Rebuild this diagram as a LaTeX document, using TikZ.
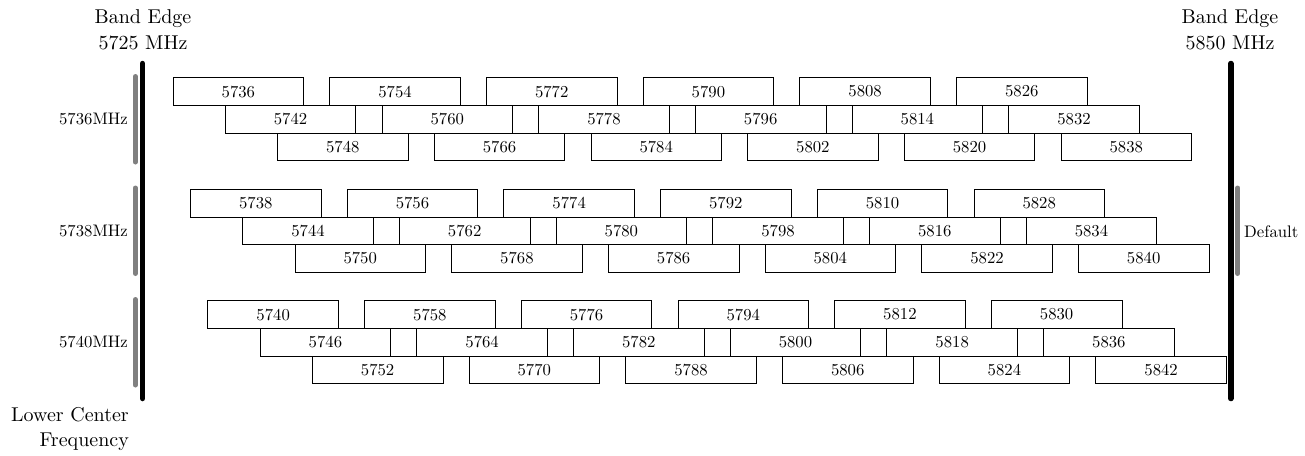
\documentclass[tikz,border=0pt]{standalone}
\usepackage{fontspec}
\setmainfont{lmroman10-regular.otf}
\begin{document}
\begin{tikzpicture}[x=1pt,y=-1pt,
  chan/.style={draw, line width=0.8pt, minimum width=130.6pt, minimum height=27.7pt, inner sep=0pt, font=\fontsize{16.7}{20}\selectfont},
  edgeline/.style={line width=5.5pt, line cap=round, black},
  graybar/.style={line width=5pt, line cap=round, black!50},
  small/.style={font=\fontsize{16.7}{20}\selectfont, inner sep=0pt},
  big/.style={font=\fontsize{20}{25.5}\selectfont, inner sep=0pt}]
\useasboundingbox (0,0) rectangle (1305,455);
% band edges
\coordinate (le1) at (142.6,63.5);
\coordinate (le2) at (142.6,398.5);
\coordinate (re1) at (1230.8,63.5);
\coordinate (re2) at (1230.8,398.5);
\draw[edgeline] (le1) -- (le2);
\draw[edgeline] (re1) -- (re2);
\node[big, align=center] (bl) at (143,30) {Band Edge\\5725 MHz};
\node[big, align=center] (br) at (1230,30) {Band Edge\\5850 MHz};
% channel boxes
\foreach \g in {0,1,2} {
  \foreach \r in {0,1,2} {
    \foreach \k in {0,...,5} {
      \pgfmathtruncatemacro\f{5736+2*\g+6*\r+18*\k}
      \pgfmathsetmacro\xc{142.6+(\f-5725)*8.705}
      \pgfmathsetmacro\yc{77.7+111.5*\g+27.7*\r+13.85}
      \node[chan] (c\f) at (\xc,\yc) {\f};
    }
  }
  \pgfmathsetmacro\ya{76.5+111.5*\g}
  \pgfmathsetmacro\yb{162+111.5*\g}
  \coordinate (ga\g) at (135.4,\ya);
  \coordinate (gb\g) at (135.4,\yb);
  \draw[graybar] (ga\g) -- (gb\g);
}
\node[small, anchor=east] (l1) at (128,119.2) {5736MHz};
\node[small, anchor=east] (l2) at (128,230.7) {5738MHz};
\node[small, anchor=east] (l3) at (128,342.2) {5740MHz};
% default
\coordinate (da) at (1237.6,188);
\coordinate (db) at (1237.6,273.5);
\draw[graybar] (da) -- (db);
\node[small, anchor=west] (def) at (1244,231.7) {Default};
\node[big, align=right, anchor=east] (lcf) at (129,429) {Lower Center\\Frequency};
\end{tikzpicture}
\end{document}
